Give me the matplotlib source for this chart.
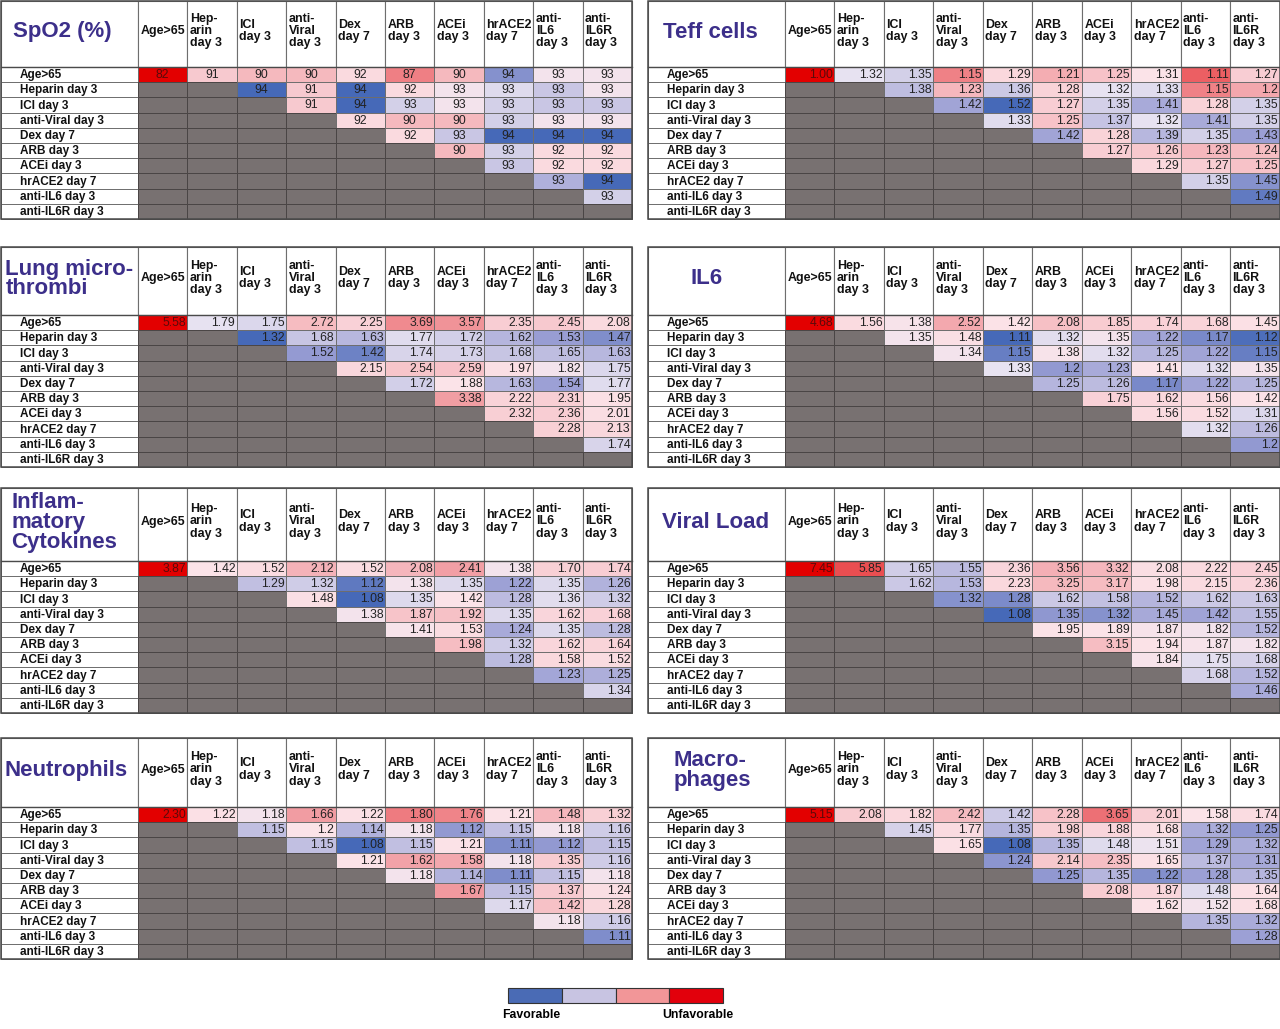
import numpy as np
import matplotlib.pyplot as plt
from matplotlib.patches import Rectangle
from matplotlib.colors import LinearSegmentedColormap, TwoSlopeNorm

plt.rcParams['font.family'] = ['Liberation Sans', 'DejaVu Sans']

colunas = ['Age>65', 'Hep-\narin\nday 3', 'ICI\nday 3', 'anti-\nViral\nday 3', 'Dex\nday 7',
           'ARB\nday 3', 'ACEi\nday 3', 'hrACE2\nday 7', 'anti-\nIL6\nday 3', 'anti-\nIL6R\nday 3']
linhas = ['Age>65', 'Heparin day 3', 'ICI day 3', 'anti-Viral day 3', 'Dex day 7',
          'ARB day 3', 'ACEi day 3', 'hrACE2 day 7', 'anti-IL6 day 3', 'anti-IL6R day 3']

# valores por linha (triangulo superior); SpO2 com decimais estimados pela cor
spo2 = [['82', '91', '90', '90', '92', '87', '90', '93.6', '92.8', '92.8'],
        ['94', '91', '94', '92', '92.8', '92.9', '93.1', '92.8'],
        ['91', '94', '93.0', '92.8', '93.0', '93.1', '93.1'],
        ['92', '90', '90', '93.0', '92.8', '92.8'],
        ['92', '93.1', '94', '94', '94'],
        ['90', '93.0', '92', '92'],
        ['93.1', '92', '92'],
        ['93.3', '94'],
        ['93.0'],
        []]

teff = [['1.00', '1.32', '1.35', '1.15', '1.29', '1.21', '1.25', '1.31', '1.11', '1.27'],
        ['1.38', '1.23', '1.36', '1.28', '1.32', '1.33', '1.15', '1.2'],
        ['1.42', '1.52', '1.27', '1.35', '1.41', '1.28', '1.35'],
        ['1.33', '1.25', '1.37', '1.32', '1.41', '1.35'],
        ['1.42', '1.28', '1.39', '1.35', '1.43'],
        ['1.27', '1.26', '1.23', '1.24'],
        ['1.29', '1.27', '1.25'],
        ['1.35', '1.45'],
        ['1.49'],
        []]

pulmao = [['5.58', '1.79', '1.75', '2.72', '2.25', '3.69', '3.57', '2.35', '2.45', '2.08'],
          ['1.32', '1.68', '1.63', '1.77', '1.72', '1.62', '1.53', '1.47'],
          ['1.52', '1.42', '1.74', '1.73', '1.68', '1.65', '1.63'],
          ['2.15', '2.54', '2.59', '1.97', '1.82', '1.75'],
          ['1.72', '1.88', '1.63', '1.54', '1.77'],
          ['3.38', '2.22', '2.31', '1.95'],
          ['2.32', '2.36', '2.01'],
          ['2.28', '2.13'],
          ['1.74'],
          []]

il6 = [['4.68', '1.56', '1.38', '2.52', '1.42', '2.08', '1.85', '1.74', '1.68', '1.45'],
       ['1.35', '1.48', '1.11', '1.32', '1.35', '1.22', '1.17', '1.12'],
       ['1.34', '1.15', '1.38', '1.32', '1.25', '1.22', '1.15'],
       ['1.33', '1.2', '1.23', '1.41', '1.32', '1.35'],
       ['1.25', '1.26', '1.17', '1.22', '1.25'],
       ['1.75', '1.62', '1.56', '1.42'],
       ['1.56', '1.52', '1.31'],
       ['1.32', '1.26'],
       ['1.2'],
       []]

citocinas = [['3.87', '1.42', '1.52', '2.12', '1.52', '2.08', '2.41', '1.38', '1.70', '1.74'],
             ['1.29', '1.32', '1.12', '1.38', '1.35', '1.22', '1.35', '1.26'],
             ['1.48', '1.08', '1.35', '1.42', '1.28', '1.36', '1.32'],
             ['1.38', '1.87', '1.92', '1.35', '1.62', '1.68'],
             ['1.41', '1.53', '1.24', '1.35', '1.28'],
             ['1.98', '1.32', '1.62', '1.64'],
             ['1.28', '1.58', '1.52'],
             ['1.23', '1.25'],
             ['1.34'],
             []]

carga_viral = [['7.45', '5.85', '1.65', '1.55', '2.36', '3.56', '3.32', '2.08', '2.22', '2.45'],
               ['1.62', '1.53', '2.23', '3.25', '3.17', '1.98', '2.15', '2.36'],
               ['1.32', '1.28', '1.62', '1.58', '1.52', '1.62', '1.63'],
               ['1.08', '1.35', '1.32', '1.45', '1.42', '1.55'],
               ['1.95', '1.89', '1.87', '1.82', '1.52'],
               ['3.15', '1.94', '1.87', '1.82'],
               ['1.84', '1.75', '1.68'],
               ['1.68', '1.52'],
               ['1.46'],
               []]

neutrofilos = [['2.30', '1.22', '1.18', '1.66', '1.22', '1.80', '1.76', '1.21', '1.48', '1.32'],
               ['1.15', '1.2', '1.14', '1.18', '1.12', '1.15', '1.18', '1.16'],
               ['1.15', '1.08', '1.15', '1.21', '1.11', '1.12', '1.15'],
               ['1.21', '1.62', '1.58', '1.18', '1.35', '1.16'],
               ['1.18', '1.14', '1.11', '1.15', '1.18'],
               ['1.67', '1.15', '1.37', '1.24'],
               ['1.17', '1.42', '1.28'],
               ['1.18', '1.16'],
               ['1.11'],
               []]

macrofagos = [['5.15', '2.08', '1.82', '2.42', '1.42', '2.28', '3.65', '2.01', '1.58', '1.74'],
              ['1.45', '1.77', '1.35', '1.98', '1.88', '1.68', '1.32', '1.25'],
              ['1.65', '1.08', '1.35', '1.48', '1.51', '1.29', '1.32'],
              ['1.24', '2.14', '2.35', '1.65', '1.37', '1.31'],
              ['1.25', '1.35', '1.22', '1.28', '1.35'],
              ['2.08', '1.87', '1.48', '1.64'],
              ['1.62', '1.52', '1.68'],
              ['1.35', '1.32'],
              ['1.28'],
              []]

legenda = ['Favorable', 'Unfavorable']

cmap = LinearSegmentedColormap.from_list('fav', [(0, '#4669b8'), (0.22, '#9a9ed4'), (0.36, '#c4c2e2'),
                                                 (0.49, '#e8e3f1'), (0.51, '#fbe3e8'), (0.72, '#f19aa0'),
                                                 (1, '#e30000')])
roxo = '#3c2f8a'
cinza = '#787171'
linha_cor = '#6e6e6e'

W, H = 1280, 1029
fig = plt.figure(figsize=(12.8, 10.29), dpi=100)
ax = fig.add_axes([0, 0, 1, 1])
ax.set_xlim(0, W)
ax.set_ylim(H, 0)
ax.axis('off')


def desenha(x0, x1, y0, y_cab, titulo, dados, maior_melhor, dx=0, inteiro=False):
    larg_rot = 137
    larg = (x1 - x0 - larg_rot) / 10
    alt = 15.2
    vals = [float(s) for linha in dados for s in linha]
    norm = TwoSlopeNorm(vcenter=np.median(vals), vmin=min(vals), vmax=max(vals))

    # cabecalho
    ax.add_patch(Rectangle((x0, y0), larg_rot, y_cab - y0, fc='white', ec=linha_cor, lw=0.8))
    ax.text(x0 + larg_rot / 2 + dx, (y0 + y_cab) / 2 - 2, titulo, ha='center', va='center',
            multialignment='left', fontsize=16, fontweight='bold', color=roxo, linespacing=0.92)
    for j, c in enumerate(colunas):
        cx = x0 + larg_rot + j * larg
        ax.add_patch(Rectangle((cx, y0), larg, y_cab - y0, fc='white', ec=linha_cor, lw=0.8))
        ax.text(cx + 2.5, (y0 + y_cab) / 2 - 3, c, ha='left', va='center', fontsize=8.9,
                fontweight='bold', color='#111111', linespacing=1.02)

    for i, nome in enumerate(linhas):
        ry = y_cab + i * alt
        ax.add_patch(Rectangle((x0, ry), larg_rot, alt, fc='white', ec=linha_cor, lw=0.7))
        ax.text(x0 + 19, ry + alt / 2 + 0.5, nome, ha='left', va='center', fontsize=8.5,
                fontweight='bold', color='#111111')
        inicio = 0 if i == 0 else i + 1
        for j in range(10):
            cx = x0 + larg_rot + j * larg
            k = j - inicio
            if k < 0 or k >= len(dados[i]):
                ax.add_patch(Rectangle((cx, ry), larg, alt, fc=cinza, ec='#4a4545', lw=0.7))
                continue
            s = dados[i][k]
            t = float(norm(float(s)))
            if maior_melhor:
                t = 1 - t
            cor_txt = '#5a0a0a' if t > 0.93 else '#222222'
            ax.add_patch(Rectangle((cx, ry), larg, alt, fc=cmap(t), ec=linha_cor, lw=0.7))
            if inteiro:
                ax.text(cx + larg / 2, ry + alt / 2 + 0.5, f'{float(s):.0f}', ha='center',
                        va='center', fontsize=8.8, color=cor_txt)
            else:
                ax.text(cx + larg - 1.5, ry + alt / 2 + 0.5, s, ha='right', va='center',
                        fontsize=8.8, color=cor_txt)

    ax.plot([x0, x1], [y_cab, y_cab], color='#4a4a4a', lw=1.0)
    ax.add_patch(Rectangle((x0, y0), x1 - x0, y_cab + 10 * alt - y0, fc='none', ec='#4a4a4a', lw=1.1))


L0, L1 = 1, 632
R0, R1 = 648, 1279.5
desenha(L0, L1, 1, 67, 'SpO2 (%)', spo2, True, dx=-7, inteiro=True)
desenha(R0, R1, 1, 67, 'Teff cells', teff, True, dx=-6)
desenha(L0, L1, 247, 315, 'Lung micro-\nthrombi', pulmao, False)
desenha(R0, R1, 247, 315, 'IL6', il6, False, dx=-10)
desenha(L0, L1, 488, 561, 'Inflam-\nmatory\nCytokines', citocinas, False, dx=-5)
desenha(R0, R1, 488, 561, 'Viral Load', carga_viral, False, dx=-1)
desenha(L0, L1, 738, 807, 'Neutrophils', neutrofilos, False, dx=-3)
desenha(R0, R1, 738, 807, 'Macro-\nphages', macrofagos, False, dx=-4)

# legenda
cores_leg = ['#4a6bb5', '#c8c4e2', '#f29698', '#e2000c']
for i, c in enumerate(cores_leg):
    ax.add_patch(Rectangle((508 + i * 53.8, 988), 53.8, 15, fc=c, ec='#333333', lw=0.8))
ax.text(531, 1015, legenda[0], ha='center', va='center', fontsize=8.8, fontweight='bold')
ax.text(698, 1015, legenda[1], ha='center', va='center', fontsize=8.8, fontweight='bold')

fig.savefig('out.png', dpi=100)
